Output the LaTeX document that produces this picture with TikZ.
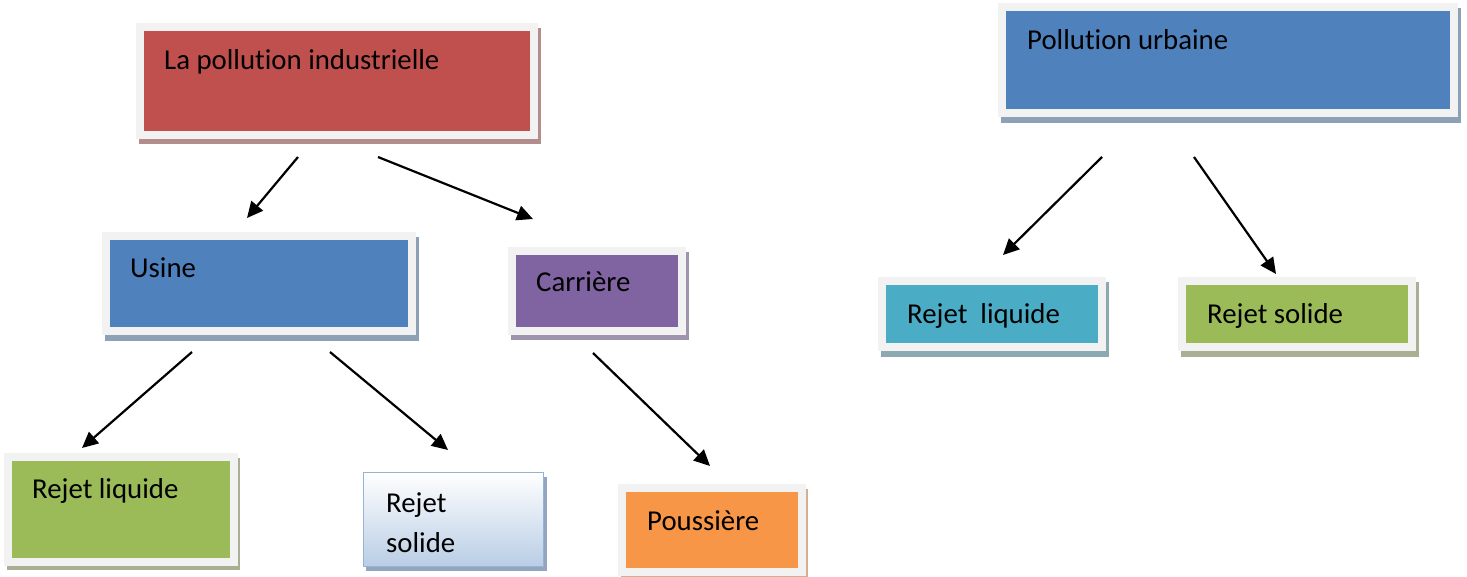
\documentclass[tikz,border=0pt]{standalone}
\usepackage{fontspec}
\setmainfont{Carlito}[RawFeature={-liga;-clig;-calt;-dlig}]
\usetikzlibrary{arrows.meta}
\definecolor{framec}{HTML}{F2F2F2}
\definecolor{redc}{HTML}{C0504D}
\definecolor{redsh}{HTML}{B38C8C}
\definecolor{bluec}{HTML}{4F81BD}
\definecolor{bluesh}{HTML}{8EA0B6}
\definecolor{purc}{HTML}{8064A2}
\definecolor{pursh}{HTML}{A093AC}
\definecolor{grnc}{HTML}{9BBB59}
\definecolor{grnsh}{HTML}{A9AF92}
\definecolor{aquac}{HTML}{4BACC6}
\definecolor{aquash}{HTML}{8AA9B1}
\definecolor{orc}{HTML}{F79646}
\definecolor{orsh}{HTML}{D4AF8F}
\definecolor{lbtop}{HTML}{FFFFFF}
\definecolor{lbbot}{HTML}{B9CDE5}
\definecolor{lbline}{HTML}{95B3D7}
\definecolor{lbsh}{HTML}{93A6BF}
\tikzset{
  wbox/.style={draw=framec, line width=8pt, inner sep=0pt, outer sep=0pt},
  txt/.style={anchor=base west, inner sep=0pt, font=\fontsize{28.8}{34}\selectfont, text=black},
  arr/.style={line width=2.2pt, -{Triangle[length=16pt,width=15pt]}}
}
\begin{document}
\begin{tikzpicture}[x=1pt,y=-1pt]
\useasboundingbox[fill=white] (0,0) rectangle (1467,576);
% shadows
\fill[redsh] (139,28) rectangle (541,144);
\fill[bluesh] (1001,8) rectangle (1461,123);
\fill[bluesh] (105,237) rectangle (419,341);
\fill[pursh] (511,252) rectangle (689,340);
\fill[grnsh] (7,458) rectangle (240,570);
\fill[lbsh] (366,477) rectangle (547,571);
\fill[orsh] (621,489) rectangle (808,580);
\fill[aquash] (881,282) rectangle (1109,357);
\fill[grnsh] (1181,282) rectangle (1419,357);
% boxes (outer extents given by frame)
\node[wbox, fill=redc, minimum width=394pt, minimum height=108pt] (ind) at (337,81) {};
\node[wbox, fill=bluec, minimum width=452pt, minimum height=106pt] (urb) at (1228,60) {};
\node[wbox, fill=bluec, minimum width=306pt, minimum height=95pt] (usine) at (259,283.5) {};
\node[wbox, fill=purc, minimum width=170pt, minimum height=80pt] (carr) at (597,291) {};
\node[wbox, fill=grnc, minimum width=226pt, minimum height=105pt] (rl1) at (121,509.5) {};
\node[draw=lbline, line width=1.5pt, top color=lbtop, bottom color=lbbot, inner sep=0pt, outer sep=0pt, minimum width=180pt, minimum height=94pt] (rs1) at (453.5,519.5) {};
\node[wbox, fill=orc, minimum width=180pt, minimum height=84pt] (pous) at (712,530) {};
\node[wbox, fill=aquac, minimum width=220pt, minimum height=66pt] (rl2) at (992,314) {};
\node[wbox, fill=grnc, minimum width=230pt, minimum height=66pt] (rs2) at (1297,314) {};
% texts
\node[txt] (ind-t) at (164,69) {La pollut\kern0pt ion industrielle};
\node[txt] (urb-t) at (1027,49) {Pollut\kern0pt ion urbaine};
\node[txt] (usine-t) at (130,277) {Usine};
\node[txt] (carr-t) at (536,291) {Carrière};
\node[txt] (rl1-t) at (32,498) {Rejet liquide};
\node[txt] (rs1-t1) at (386,512) {Rejet};
\node[txt] (rs1-t2) at (386,552) {solide};
\node[txt] (pous-t) at (647,530) {Poussière};
\node[txt] (rl2-t) at (907,323) {Rejet \ liquide};
\node[txt] (rs2-t) at (1207,323) {Rejet solide};
% arrow ends
\coordinate (a1s) at (298,157); \coordinate (a1e) at (247,218);
\coordinate (a2s) at (378,157); \coordinate (a2e) at (533,219);
\coordinate (a3s) at (192,352); \coordinate (a3e) at (82,448);
\coordinate (a4s) at (330,352); \coordinate (a4e) at (448,450);
\coordinate (a5s) at (593,353); \coordinate (a5e) at (710,466);
\coordinate (a6s) at (1102,157); \coordinate (a6e) at (1003,255);
\coordinate (a7s) at (1194,157); \coordinate (a7e) at (1276,274);
\draw[arr] (a1s) -- (a1e);
\draw[arr] (a2s) -- (a2e);
\draw[arr] (a3s) -- (a3e);
\draw[arr] (a4s) -- (a4e);
\draw[arr] (a5s) -- (a5e);
\draw[arr] (a6s) -- (a6e);
\draw[arr] (a7s) -- (a7e);
\end{tikzpicture}
\end{document}
